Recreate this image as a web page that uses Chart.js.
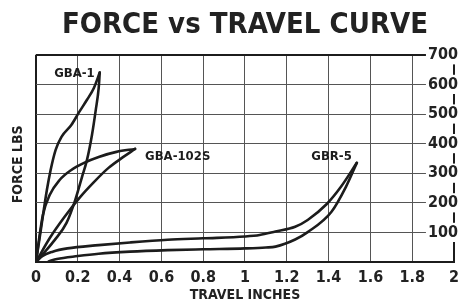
<!DOCTYPE html>
<html>
<head>
<meta charset="utf-8">
<style>html,body{margin:0;padding:0;background:#fff}canvas{display:block}</style>
<script src="https://cdn.jsdelivr.net/npm/chart.js@4/dist/chart.umd.min.js"></script>
</head>
<body>
<canvas id="c" width="465" height="304"></canvas>
<script>
const chartTitle = 'FORCE vs TRAVEL CURVE';
const xAxisTitle = 'TRAVEL INCHES';
const yAxisTitle = 'FORCE LBS';
const xTickValues = [0, 0.2, 0.4, 0.6, 0.8, 1, 1.2, 1.4, 1.6, 1.8, 2];
const xTickLabels = ['0', '0.2', '0.4', '0.6', '0.8', '1', '1.2', '1.4', '1.6', '1.8', '2'];
const yTickValues = [100, 200, 300, 400, 500, 600, 700];
const yTickLabels = ['100', '200', '300', '400', '500', '600', '700'];
const seriesNames = ['GBA-1', 'GBA-102S', 'GBR-5'];

// [travel inches, force lbs]
const gba1Upper = [[0,0],[0.023,108],[0.052,243],[0.07,311],[0.094,379],[0.122,423],[0.169,463],[0.207,507],[0.244,548],[0.277,588],[0.305,640]];
const gba1Lower = [[0,0],[0.042,34],[0.089,74],[0.146,132],[0.188,210],[0.22,287],[0.244,345],[0.268,430],[0.286,514],[0.3,588],[0.305,640]];
const gba102Upper = [[0,0],[0.014,74],[0.033,159],[0.066,227],[0.113,277],[0.169,311],[0.23,335],[0.3,355],[0.385,372],[0.474,382]];
const gba102Lower = [[0,0],[0.066,81],[0.136,152],[0.207,216],[0.277,270],[0.347,318],[0.418,355],[0.474,382]];
const gbr5Upper = [[0,0],[0.03,20],[0.08,35],[0.15,46],[0.3,57],[0.45,66],[0.63,75],[0.8,80],[1.0,86],[1.07,91],[1.146,103],[1.24,119],[1.3,142],[1.39,195],[1.46,255],[1.535,335]];
const gbr5Lower = [[0.06,2],[0.1,10],[0.2,20],[0.3,28],[0.45,35],[0.63,40],[0.8,43],[1.0,46],[1.1,49],[1.146,52],[1.24,76],[1.3,101],[1.413,169],[1.483,254],[1.535,335]];

const curves = [
  {name: seriesNames[0], branches: [gba1Upper, gba1Lower]},
  {name: seriesNames[1], branches: [gba102Upper, gba102Lower]},
  {name: seriesNames[2], branches: [gbr5Upper, gbr5Lower]}
];

const FONT = "'Liberation Sans Narrow', 'DejaVu Sans Condensed', 'Roboto', sans-serif";
const INK = '#1c1c1c';
const GRID = '#555555';

const labelStyle = [
  {align: 'right', dx: -5, dy: 1},
  {align: 'left', dx: 10, dy: 8},
  {align: 'right', dx: -5, dy: -6}
];

const datasets = [];
curves.forEach(c => c.branches.forEach(b => datasets.push({
  label: c.name,
  data: b.map(p => ({x: p[0], y: p[1]})),
  borderColor: INK,
  borderWidth: 2.6,
  pointRadius: 0,
  fill: false,
  cubicInterpolationMode: 'monotone',
  borderCapStyle: 'round',
  borderJoinStyle: 'round'
})));

const curveLabels = {
  id: 'curveLabels',
  beforeDraw(chart) {
    // centre the left axis title a little lower, as in the original
    const s = chart.scales.yTitle;
    s.top = chart.chartArea.top + 12;
    s.bottom = chart.chartArea.bottom;
  },
  afterDatasetsDraw(chart) {
    const {ctx, scales} = chart;
    ctx.save();
    ctx.font = 'bold 13px ' + FONT;
    ctx.fillStyle = INK;
    ctx.textBaseline = 'middle';
    curves.forEach((c, i) => {
      const pts = c.branches[0];
      const peak = pts[pts.length - 1];
      const px = scales.x.getPixelForValue(peak[0]);
      const py = scales.y.getPixelForValue(peak[1]);
      const s = labelStyle[i];
      ctx.textAlign = s.align;
      ctx.fillText(c.name, px + s.dx, py + s.dy);
    });
    ctx.restore();
  }
};

new Chart(document.getElementById('c'), {
  type: 'line',
  data: {datasets},
  plugins: [curveLabels],
  options: {
    responsive: false,
    animation: false,
    events: [],
    layout: {padding: 0, autoPadding: false},
    plugins: {
      legend: {display: false},
      tooltip: {enabled: false},
      title: {
        display: true,
        text: chartTitle,
        fullSize: false,
        color: '#222',
        font: {family: FONT, size: 29, weight: 'bold', lineHeight: 1.2},
        padding: {top: 8, bottom: 12}
      }
    },
    scales: {
      x: {
        type: 'linear',
        min: 0, max: 2,
        afterBuildTicks: s => { s.ticks = xTickValues.map(v => ({value: v})); },
        afterFit: s => { s.height = 42; },
        ticks: {
          callback: v => xTickLabels[xTickValues.indexOf(v)],
          color: '#222',
          font: {family: FONT, size: 16, weight: 'bold'},
          padding: 6,
          maxRotation: 0,
          autoSkip: false
        },
        grid: {
          color: ctx => (ctx.tick && ctx.tick.value === 0) ? INK : GRID,
          lineWidth: ctx => (ctx.tick && ctx.tick.value === 0) ? 2 : 1,
          drawTicks: false
        },
        border: {display: true, color: INK, width: 2},
        title: {
          display: true, text: xAxisTitle, color: '#222',
          font: {family: FONT, size: 14, weight: 'bold', lineHeight: 1.2},
          padding: 0
        }
      },
      y: {
        type: 'linear',
        position: 'right',
        min: 0, max: 700,
        afterBuildTicks: s => { s.ticks = yTickValues.map(v => ({value: v})); },
        afterFit: s => { s.width = 3; },
        ticks: {
          mirror: true,
          callback: v => yTickLabels[yTickValues.indexOf(v)],
          color: '#222',
          font: {family: FONT, size: 16, weight: 'bold'},
          padding: 4,
          showLabelBackdrop: true,
          backdropColor: '#ffffff',
          backdropPadding: {left: 2, right: 1, top: 0, bottom: 0}
        },
        grid: {
          color: ctx => (ctx.tick && ctx.tick.value === 700) ? INK : GRID,
          lineWidth: ctx => (ctx.tick && ctx.tick.value === 700) ? 2 : 1,
          drawTicks: false
        },
        border: {display: true, color: INK, width: 2}
      },
      yTitle: {
        type: 'linear',
        position: 'left',
        min: 0, max: 700,
        afterFit: s => { s.width = 36; },
        ticks: {display: false},
        grid: {display: false, drawTicks: false},
        border: {display: false},
        title: {
          display: true, text: yAxisTitle, color: '#222',
          font: {family: FONT, size: 14, weight: 'bold', lineHeight: 1.2},
          padding: {top: 10, bottom: 0}
        }
      }
    }
  }
});
</script>
</body>
</html>
